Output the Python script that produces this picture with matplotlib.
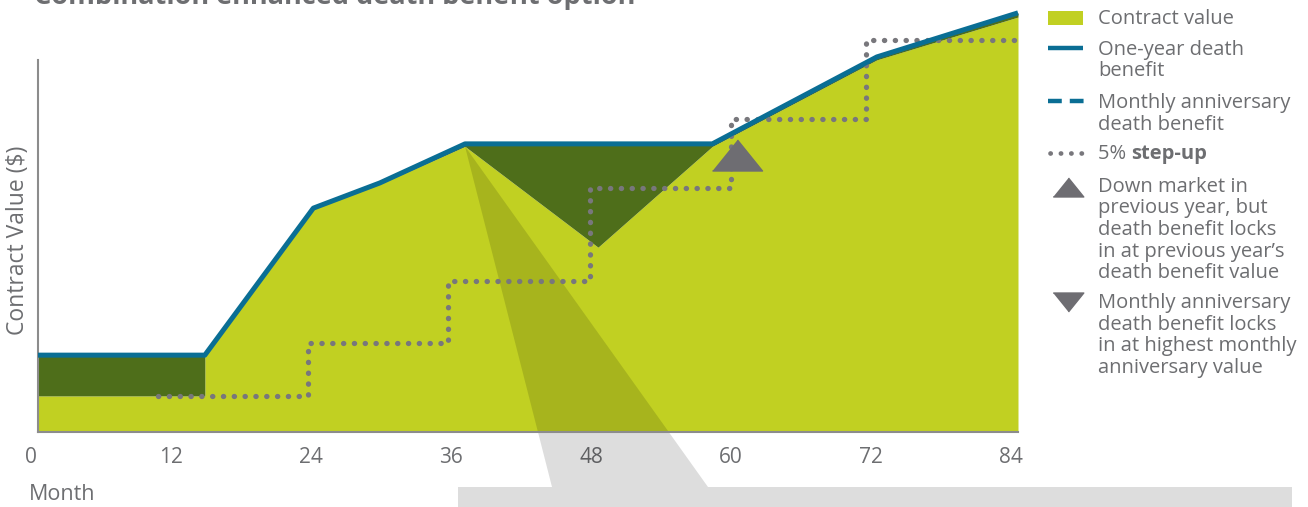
import matplotlib
matplotlib.use("Agg")
import matplotlib.pyplot as plt
import matplotlib.transforms as mtransforms
from matplotlib.patches import Polygon, Rectangle
from matplotlib.lines import Line2D

# Data (arbitrary value units, 0-100)
months = [0, 14.3, 14.3, 23.6, 29.3, 36.6, 48.0, 57.8, 71.9, 84]
contract_value = [8.6, 8.6, 17.9, 53.0, 59.0, 68.0, 44.0, 68.0, 88.6, 98.8]
death_benefit = [18.3, 18.3, 18.3, 53.3, 59.3, 68.6, 68.6, 68.6, 89.3, 99.8]

step_months = [10.3, 23.1, 35.1, 47.3, 59.4, 71.0, 84.3]
step_values = [8.6, 21.2, 36.0, 58.1, 74.5, 93.3, 93.3]

lock_month = [59.9]
lock_value = [66.0]

month_ticks = [0, 12, 24, 36, 48, 60, 72, 84]

legend_labels = [
    "Contract value",
    "One-year death\nbenefit",
    "Monthly anniversary\ndeath benefit",
    None,  # "5% step-up" drawn in two parts
    "Down market in\nprevious year, but\ndeath benefit locks\nin at previous year\u2019s\ndeath benefit value",
    "Monthly anniversary\ndeath benefit locks\nin at highest monthly\nanniversary value",
]

LIGHT_GREEN = "#c1d022"
DARK_GREEN = "#4e6e1a"
BLUE = "#0a6e94"
DOT_GRAY = "#78777c"
TRI_GRAY = "#6e6d72"
TEXT_GRAY = "#6d6e71"
FONT = "Open Sans"

W, H = 1308, 507


def fx(x):
    return x / W


def fy(y):
    return 1 - y / H


fig = plt.figure(figsize=(W / 100, H / 100), dpi=100)
ax = fig.add_axes([fx(38), fy(432), fx(1018) - fx(38), fy(12) - fy(432)])
ax.set_xlim(0, 84)
ax.set_ylim(0, 100)

ax.fill_between(months, 0, contract_value, color=LIGHT_GREEN, lw=0, zorder=1)
ax.fill_between(months, contract_value, death_benefit, color=DARK_GREEN, lw=0, zorder=1)

# callout funnel from the peak down to the grey bar
peak_disp = ax.transData.transform((months[5], contract_value[5]))
apex = fig.transFigure.inverted().transform(peak_disp)
funnel = [tuple(apex), (fx(552), fy(487)), (fx(458), fy(487)), (fx(458), fy(510)),
          (fx(1292), fy(510)), (fx(1292), fy(487)), (fx(708), fy(487))]
ax.add_patch(Polygon(funnel, closed=True, transform=fig.transFigure, facecolor="black",
                     alpha=0.135, lw=0, clip_on=False, zorder=2))

ax.plot(step_months, step_values, drawstyle="steps-post", color=DOT_GRAY, lw=3.8,
        linestyle=(0, (0.05, 2.0)), dash_capstyle="round", zorder=3, clip_on=False)
ax.plot(months, death_benefit, color=BLUE, lw=3.6, solid_capstyle="butt", zorder=4,
        clip_on=False)

tri_up = [(-1, -0.62), (1, -0.62), (0, 0.62)]
ax.plot(lock_month, lock_value, marker=tri_up, markersize=36, color=TRI_GRAY,
        ls="none", zorder=5)

# axes styling
for s in ["top", "right"]:
    ax.spines[s].set_visible(False)
for s in ["bottom", "left"]:
    ax.spines[s].set_color("#8c8c8c")
    ax.spines[s].set_linewidth(1.5)
ax.spines["left"].set_bounds(0, 88.6)
ax.set_yticks([])
ax.set_xticks(month_ticks)
ax.set_xticklabels([str(m) for m in month_ticks], fontsize=15, color=TEXT_GRAY,
                   family=FONT)
ax.tick_params(axis="x", length=0, pad=11)
shift = mtransforms.ScaledTranslation(-7 / 100, 0, fig.dpi_scale_trans)
for lbl in ax.get_xticklabels():
    lbl.set_transform(lbl.get_transform() + shift)

fig.text(fx(29), fy(494), "Month", fontsize=15.5, color=TEXT_GRAY, family=FONT,
         ha="left", va="center")
fig.text(fx(18), fy(240), "Contract Value ($)", fontsize=16.5, color=TEXT_GRAY,
         family=FONT, rotation=90, ha="center", va="center")
fig.text(fx(34), fy(4), "Combination enhanced death benefit option", fontsize=19.5,
         fontweight="bold", color=TEXT_GRAY, family=FONT, ha="left", va="baseline")

# legend, drawn by hand
tx = fx(1098)
fs = 14.5
first_line_y = [18, 49, 102, 153, 186, 302]
for lab, yc in zip(legend_labels, first_line_y):
    if lab is None:
        continue
    fig.text(tx, fy(yc - 9), lab, fontsize=fs, color=TEXT_GRAY, family=FONT,
             ha="left", va="top", linespacing=1.1)
t1 = fig.text(tx, fy(154), "5% ", fontsize=fs, color=TEXT_GRAY, family=FONT,
              ha="left", va="center")
ax.annotate("step-up", xy=(1, 0), xycoords=t1, fontsize=fs, color=TEXT_GRAY,
            family=FONT, fontweight="bold", ha="left", va="bottom",
            annotation_clip=False)

fig.patches.append(Rectangle((fx(1048), fy(25)), fx(35), fy(11) - fy(25),
                             transform=fig.transFigure, facecolor=LIGHT_GREEN, lw=0))
fig.lines.append(Line2D([fx(1048), fx(1083)], [fy(48), fy(48)], transform=fig.transFigure,
                        color=BLUE, lw=3.2, solid_capstyle="butt"))
fig.lines.append(Line2D([fx(1048), fx(1084)], [fy(101), fy(101)], transform=fig.transFigure,
                        color=BLUE, lw=3.2, linestyle=(0, (3.1, 1.8)),
                        dash_capstyle="butt"))
fig.lines.append(Line2D([fx(1050), fx(1082)], [fy(153), fy(153)], transform=fig.transFigure,
                        color=DOT_GRAY, lw=3.4, linestyle=(0, (0.05, 2.15)),
                        dash_capstyle="round"))
fig.lines.append(Line2D([fx(1068)], [fy(187)], transform=fig.transFigure, marker=tri_up,
                        markersize=22, color=TRI_GRAY, ls="none"))
tri_down = [(-1, 0.62), (1, 0.62), (0, -0.62)]
fig.lines.append(Line2D([fx(1068)], [fy(302)], transform=fig.transFigure, marker=tri_down,
                        markersize=22, color=TRI_GRAY, ls="none"))

fig.savefig("out.png", dpi=100)
